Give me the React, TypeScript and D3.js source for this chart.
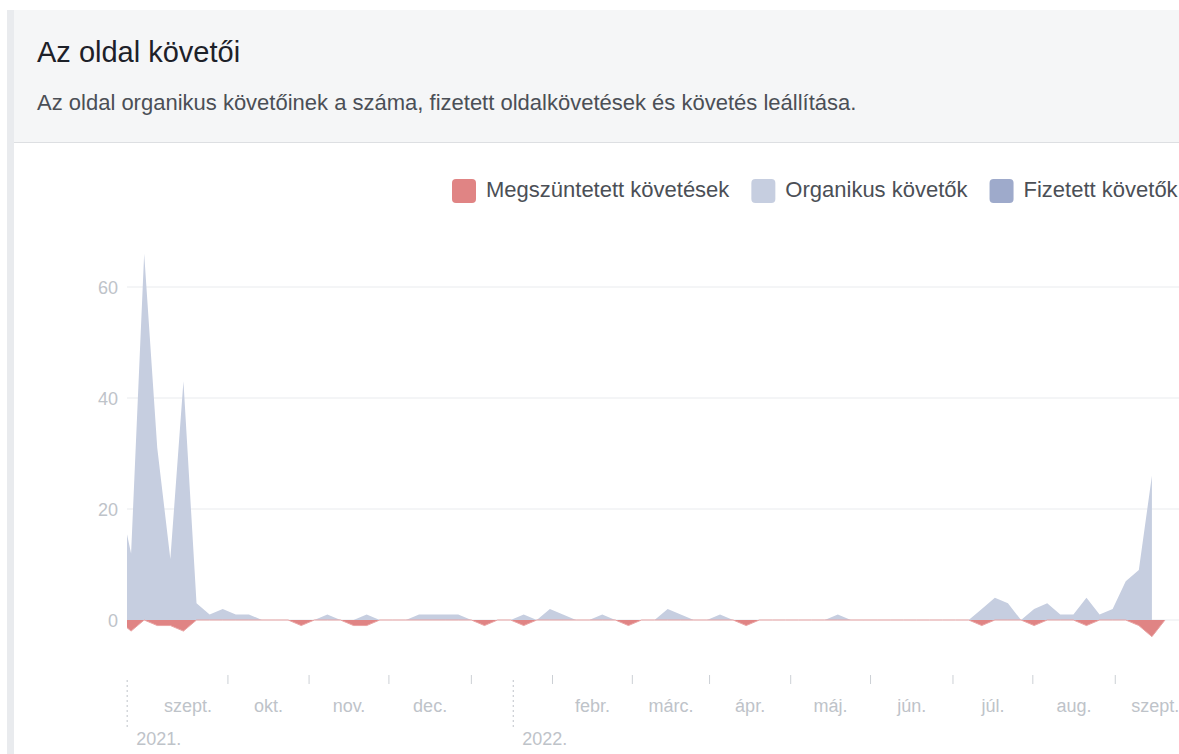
import React from "react";
import { scaleLinear, area, line, curveLinear } from "d3";

// 5-day buckets, first one sits just left of the plot edge
const organic = [23, 12, 66, 31, 11, 43, 3, 1, 2, 1,
    1, 0, 0, 0, 0, 0, 1, 0, 0, 1,
    0, 0, 0, 1, 1, 1, 1, 0, 0, 0,
    0, 1, 0, 2, 1, 0, 0, 1, 0, 0,
    0, 0, 2, 1, 0, 0, 1, 0, 0, 0,
    0, 0, 0, 0, 0, 1, 0, 0, 0, 0,
    0, 0, 0, 0, 0, 0, 2, 4, 3, 0,
    2, 3, 1, 1, 4, 1, 2, 7, 9, 26,
    null];
const paid = organic.map(() => 0);
const unfollows = [0, -2, 0, -1, -1, -2, 0, 0, 0, 0,
    0, 0, 0, 0, -1, 0, 0, 0, -1, -1,
    0, 0, 0, 0, 0, 0, 0, 0, -1, 0,
    0, -1, 0, 0, 0, 0, 0, 0, 0, -1,
    0, 0, 0, 0, 0, 0, 0, 0, -1, 0,
    0, 0, 0, 0, 0, 0, 0, 0, 0, 0,
    0, 0, 0, 0, 0, 0, -1, 0, 0, 0,
    -1, 0, 0, 0, -1, 0, 0, 0, -1, -3,
    0];

// month starts in bucket units
const monthNames = ["szept.", "okt.", "nov.", "dec.", "", "febr.", "márc.", "ápr.", "máj.", "jún.", "júl.", "aug.", "szept."];
const monthStarts = [2.3, 8.4, 14.6, 20.7, 27.0, 33.2, 39.3, 45.2, 51.4, 57.5, 63.8, 69.9, 76.2, 82.3];
const yearNames = ["2021.", "2022."];
const yearStarts = [0.7, 30.2];
const yTicks = [0, 20, 40, 60];

const legendNames = ["Megszüntetett követések", "Organikus követők", "Fizetett követők"];
const legendColors = ["#e08484", "#c6cee0", "#9eaacb"];

const font = "'Liberation Sans', Arial, sans-serif";

function textWidth(txt: string, size: number) {
    const ctx = document.createElement("canvas").getContext("2d");
    if (!ctx) return txt.length * size * 0.5;
    ctx.font = `${size}px ${font}`;
    return ctx.measureText(txt).width;
}

const App = () => {
    const width = 1179;
    const height = 754;
    const plotLeft = 127;

    const xScale = scaleLinear().domain([0, organic.length - 1]).range([118, 1165]);
    const yScale = scaleLinear().domain([0, 60]).range([620, 287]);

    const organicArea = area<number | null>()
        .defined(d => d !== null)
        .x((d, i) => xScale(i))
        .y0((d, i) => yScale(paid[i]))
        .y1((d, i) => yScale(paid[i] + (d as number)))
        .curve(curveLinear);

    const unfollowArea = area<number>()
        .x((d, i) => xScale(i))
        .y0(yScale(0))
        .y1(d => yScale(d));

    const unfollowLine = line<number>()
        .x((d, i) => xScale(i))
        .y(d => yScale(d));

    // legend laid out left to right
    let lx = 452;
    const legend = legendNames.map((name, i) => {
        const item = { name, color: legendColors[i], x: lx };
        lx += 24 + 10 + textWidth(name, 22) + 22;
        return item;
    });

    return (
        <div style={{ position: "absolute", left: 0, top: 0, width, height, overflow: "hidden", background: "#fff" }}>
            <svg width={width} height={height} style={{ display: "block", fontFamily: font }}>
                <defs>
                    <clipPath id="plot">
                        <rect x={plotLeft} y={0} width={width - plotLeft} height={height} />
                    </clipPath>
                </defs>

                {/* card frame + header */}
                <rect x={7} y={10} width={7} height={height - 10} fill="#e9ebee" />
                <rect x={14} y={10} width={width - 14} height={132} fill="#f5f6f7" />
                <line x1={14} x2={width} y1={142.5} y2={142.5} stroke="#dddfe2" />
                <text x={37} y={62} fontSize={29} fill="#1d2129">Az oldal követői</text>
                <text x={37} y={110} fontSize={22} fill="#4b4f56">
                    Az oldal organikus követőinek a száma, fizetett oldalkövetések és követés leállítása.
                </text>

                {/* legend */}
                {legend.map((d, i) => (
                    <g key={i}>
                        <rect x={d.x} y={179} width={24} height={24} rx={4} fill={d.color} />
                        <text x={d.x + 34} y={197} fontSize={22} fill="#4b4f56">{d.name}</text>
                    </g>
                ))}

                {/* grid + y labels */}
                {yTicks.map((t, i) => (
                    <g key={i}>
                        <line x1={plotLeft} x2={width} y1={yScale(t)} y2={yScale(t)} stroke="#e9ebee" />
                        <text x={118} y={yScale(t) + 6.5} fontSize={18} fill="#bec3c9" textAnchor="end">{t}</text>
                    </g>
                ))}

                <g clipPath="url(#plot)">
                    <path d={organicArea(organic) || ""} fill="#c6cee0" />
                    <path d={unfollowArea(unfollows) || ""} fill="#e08484" />
                    <path d={unfollowLine(unfollows) || ""} fill="none" stroke="#e9a3a3" strokeWidth={1} />
                </g>

                {/* month ticks and labels */}
                {monthStarts.slice(1, -1).map((m, i) => (
                    <line key={i} x1={xScale(m)} x2={xScale(m)} y1={675} y2={684} stroke="#ccd0d5" />
                ))}
                {monthNames.map((name, i) => name && (
                    <text key={i} x={(xScale(monthStarts[i]) + xScale(monthStarts[i + 1])) / 2} y={712}
                        fontSize={18} fill="#bec3c9" textAnchor="middle">{name}</text>
                ))}
                {yearStarts.map((y, i) => (
                    <g key={i}>
                        <line x1={xScale(y)} x2={xScale(y)} y1={680} y2={730} stroke="#bec3c9" strokeDasharray="2,3" />
                        <text x={xScale(y) + 9} y={745} fontSize={18} fill="#bec3c9">{yearNames[i]}</text>
                    </g>
                ))}
            </svg>
        </div>
    );
};

export default App;
